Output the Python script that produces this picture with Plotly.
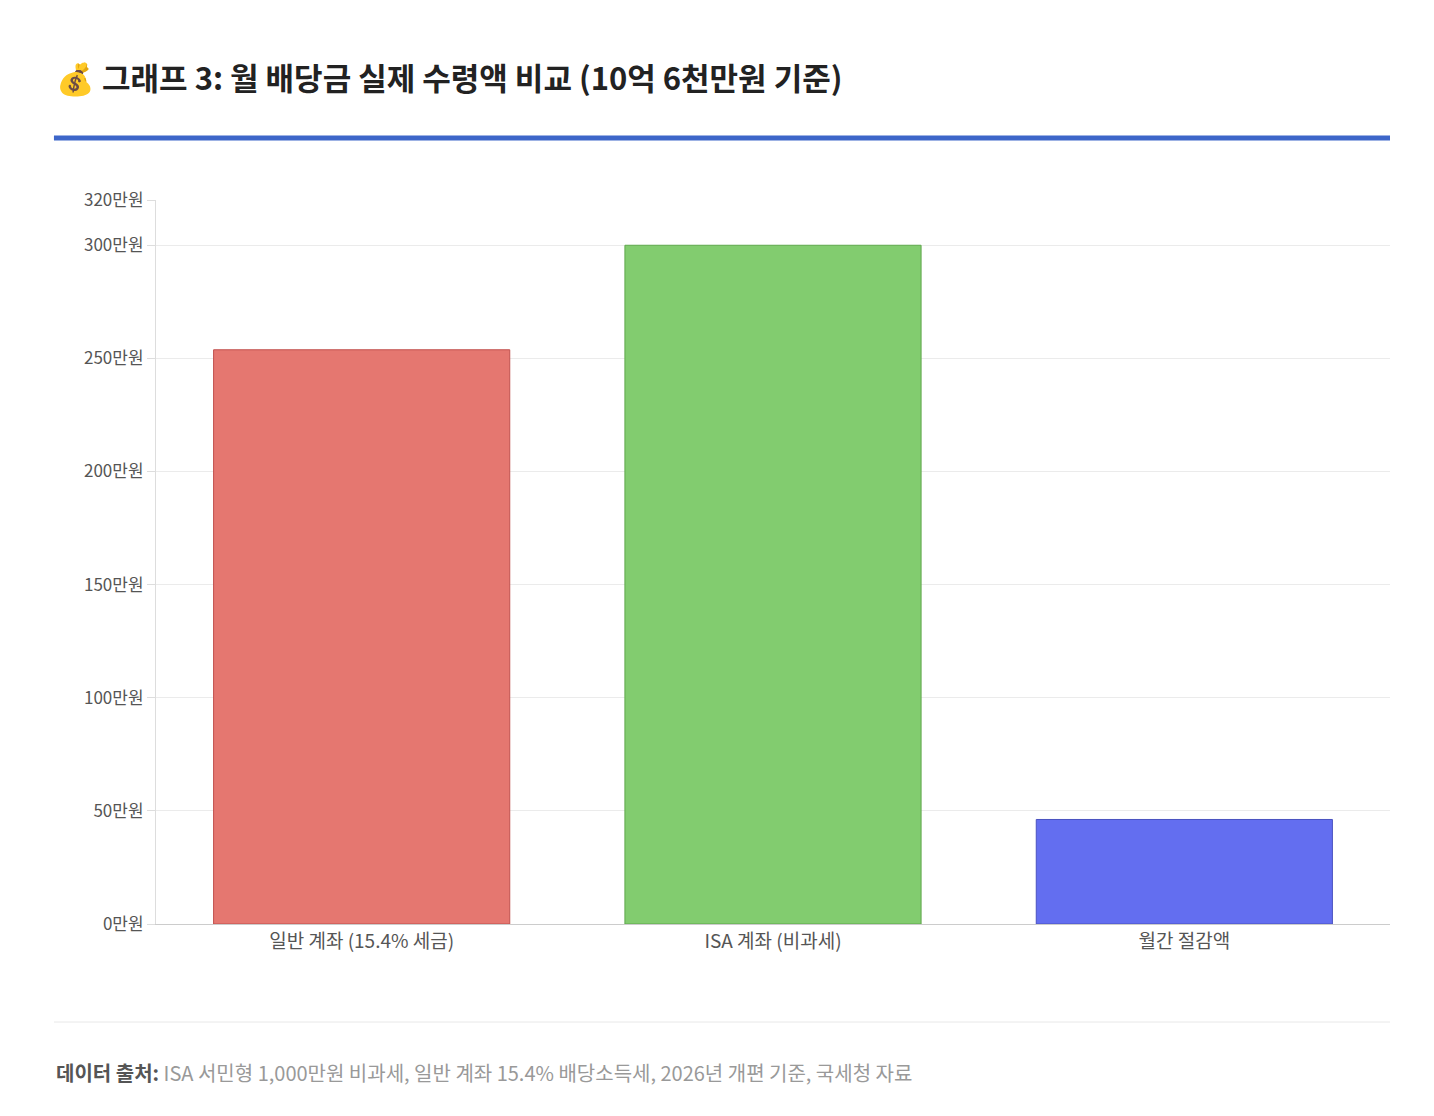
import plotly.graph_objects as go

categories = ["일반 계좌 (15.4% 세금)", "ISA 계좌 (비과세)", "월간 절감액"]
values = [253.8, 300, 46.2]
fill_colors = ["#e57770", "#82cc6f", "#636ef0"]
line_colors = ["#c0504d", "#5fa84c", "#4a52c0"]
tick_vals = [0, 50, 100, 150, 200, 250, 300, 320]
tick_text = [f"{v}만원" for v in tick_vals]

fig = go.Figure(go.Bar(
    x=categories, y=values, width=0.72,
    marker=dict(color=fill_colors, line=dict(color=line_colors, width=1)),
    hovertemplate="%{x}: %{y}만원<extra></extra>",
))

fig.update_layout(
    width=1434, height=1116,
    margin=dict(l=148, r=52, t=192, b=200),
    plot_bgcolor="white", paper_bgcolor="white",
    font=dict(family="Noto Sans CJK KR", color="#555"),
    showlegend=False,
    yaxis=dict(range=[0, 320], tickvals=tick_vals, ticktext=tick_text,
               tickfont=dict(size=17, color="#555"), gridcolor="#ebebeb",
               showline=True, linecolor="#ddd", zeroline=False,
               ticks="outside", tickcolor="#ddd", ticklen=8),
    xaxis=dict(tickfont=dict(size=19, color="#555"), showline=True,
               linecolor="#ccc", ticks="", ticklen=10),
    bargap=0.28,
)

fig.add_shape(type="line", xref="paper", yref="paper", x0=-0.0827, x1=1.0,
              y0=1.0856, y1=1.0856, line=dict(color="#3d66c9", width=5))
fig.add_shape(type="line", xref="paper", yref="paper", x0=-0.0827, x1=1.0,
              y0=-0.1354, y1=-0.1354, line=dict(color="#e8e8e8", width=1))

fig.add_annotation(xref="paper", yref="paper", x=-0.0827, y=1.171,
                   xanchor="left", yanchor="middle", showarrow=False,
                   text="<b>💰 그래프 3: 월 배당금 실제 수령액 비교 (10억 6천만원 기준)</b>",
                   font=dict(size=31, color="#222"))
fig.add_annotation(xref="paper", yref="paper", x=-0.0827, y=-0.2058,
                   xanchor="left", yanchor="middle", showarrow=False,
                   text="<b style='color:#555'>데이터 출처:</b> ISA 서민형 1,000만원 비과세, 일반 계좌 15.4% 배당소득세, 2026년 개편 기준, 국세청 자료",
                   font=dict(size=20, color="#999"))

fig.write_html("out.html")
